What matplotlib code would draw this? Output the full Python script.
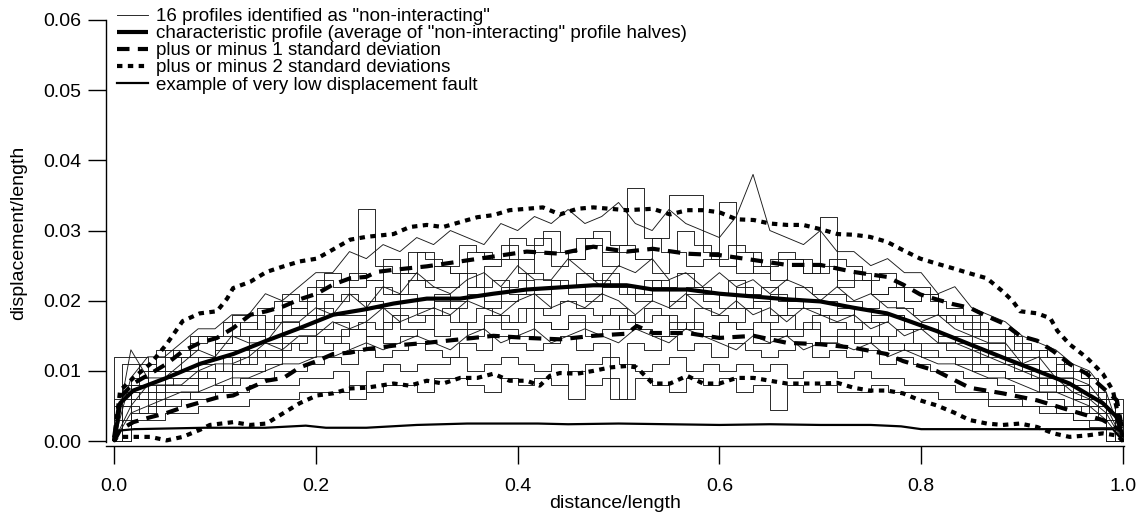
import matplotlib
matplotlib.use('Agg')
import matplotlib.pyplot as plt
import numpy as np

plt.rcParams['font.family'] = ['Liberation Sans', 'DejaVu Sans']

# 16 "non-interacting" profiles, sampled every 1/60 of length (units of 1e-3)
profile_x = np.linspace(0.0, 1.0, 61)
profiles = [
    [0, 9, 12, 12, 14, 16, 16, 18, 18, 21, 20, 22, 24, 24, 27, 26, 28, 27, 29, 28, 30, 29, 28, 31, 30, 32, 31, 33, 31, 32,
     34, 31, 30, 33, 31, 30, 29, 32, 38, 30, 29, 28, 30, 27, 27, 25, 26, 24, 24, 21, 22, 19, 18, 17, 15, 14, 13, 11, 10, 7, 0],
    [0, 11, 10, 13, 12, 15, 15, 17, 16, 19, 20, 19, 22, 24, 23, 33, 25, 24, 27, 26, 25, 28, 27, 26, 29, 28, 30, 27, 29, 30,
     28, 36, 29, 27, 30, 28, 26, 28, 27, 25, 27, 26, 24, 26, 25, 23, 24, 22, 22, 20, 19, 18, 16, 16, 14, 13, 12, 10, 9, 6, 0],
    [0, 12, 12, 10, 13, 13, 15, 14, 18, 18, 17, 21, 20, 23, 22, 24, 23, 26, 24, 27, 25, 24, 27, 26, 28, 26, 29, 27, 26, 29,
     27, 28, 26, 29, 35, 35, 27, 25, 27, 24, 26, 26, 24, 25, 23, 24, 21, 22, 20, 21, 18, 18, 15, 16, 13, 13, 10, 11, 8, 6, 0],
    [0, 7, 10, 10, 12, 12, 14, 15, 15, 17, 18, 18, 21, 20, 22, 23, 21, 24, 23, 25, 24, 22, 25, 26, 24, 27, 25, 26, 28, 25,
     27, 26, 24, 27, 25, 26, 34, 24, 25, 23, 26, 24, 32, 22, 23, 21, 22, 20, 21, 18, 17, 17, 14, 15, 12, 12, 10, 10, 7, 6, 0],
    [0, 13, 9, 9, 11, 13, 12, 15, 14, 14, 17, 17, 19, 18, 21, 19, 22, 21, 24, 22, 21, 23, 24, 22, 25, 23, 23, 26, 24, 22,
     25, 24, 26, 23, 24, 22, 24, 22, 23, 21, 23, 22, 20, 22, 20, 21, 19, 19, 17, 18, 16, 15, 14, 14, 11, 12, 9, 9, 8, 5, 0],
    [0, 8, 11, 12, 12, 14, 15, 15, 17, 16, 18, 19, 18, 20, 21, 20, 22, 21, 23, 22, 22, 24, 22, 23, 21, 24, 23, 22, 24, 23,
     22, 21, 23, 22, 24, 22, 21, 23, 21, 22, 20, 22, 21, 21, 20, 19, 20, 19, 18, 18, 17, 16, 15, 15, 13, 13, 12, 10, 9, 6, 0],
    [0, 6, 9, 8, 10, 10, 12, 13, 13, 15, 14, 17, 16, 19, 18, 18, 20, 19, 21, 19, 21, 20, 22, 20, 22, 23, 21, 23, 22, 21,
     24, 22, 21, 23, 20, 22, 21, 19, 22, 20, 21, 19, 20, 20, 18, 19, 17, 18, 16, 16, 14, 15, 12, 13, 11, 10, 9, 9, 6, 5, 0],
    [0, 8, 7, 9, 9, 11, 10, 12, 13, 12, 15, 15, 16, 17, 16, 19, 17, 19, 18, 20, 19, 21, 19, 20, 21, 19, 22, 21, 20, 22,
     21, 20, 22, 19, 21, 20, 21, 19, 20, 18, 20, 19, 18, 19, 17, 18, 18, 16, 17, 15, 14, 14, 12, 12, 11, 10, 8, 8, 6, 4, 0],
    [0, 5, 8, 8, 8, 10, 11, 11, 12, 14, 13, 15, 15, 17, 16, 17, 19, 17, 18, 19, 18, 20, 19, 18, 20, 21, 19, 20, 19, 21,
     20, 18, 20, 19, 21, 19, 18, 20, 18, 19, 17, 19, 18, 17, 18, 16, 17, 15, 16, 14, 14, 13, 12, 11, 10, 9, 9, 7, 6, 4, 0],
    [0, 7, 6, 8, 9, 9, 10, 12, 11, 13, 13, 14, 15, 14, 16, 17, 16, 18, 17, 18, 19, 17, 19, 18, 17, 19, 18, 20, 19, 18,
     19, 17, 19, 18, 16, 19, 18, 17, 19, 17, 18, 16, 18, 17, 16, 17, 15, 16, 14, 14, 13, 13, 11, 11, 10, 9, 8, 7, 6, 4, 0],
    [0, 5, 6, 7, 8, 8, 10, 10, 11, 12, 12, 14, 13, 15, 15, 16, 15, 17, 16, 16, 18, 17, 16, 18, 17, 19, 17, 16, 18, 17,
     18, 16, 17, 18, 16, 17, 15, 17, 16, 17, 15, 16, 17, 15, 16, 14, 15, 14, 13, 13, 12, 12, 10, 10, 9, 9, 7, 7, 5, 4, 0],
    [0, 6, 5, 7, 7, 9, 8, 10, 10, 11, 12, 12, 13, 14, 13, 15, 14, 15, 16, 15, 16, 15, 17, 16, 15, 17, 16, 17, 15, 16,
     18, 16, 15, 17, 16, 15, 17, 16, 14, 16, 15, 16, 14, 15, 15, 14, 13, 14, 12, 12, 11, 11, 10, 9, 9, 8, 7, 6, 5, 3, 0],
    [0, 4, 5, 6, 7, 7, 8, 9, 9, 10, 11, 11, 12, 12, 13, 14, 13, 14, 15, 14, 13, 15, 16, 14, 15, 16, 14, 15, 16, 15,
     14, 16, 15, 14, 16, 15, 14, 13, 15, 14, 15, 13, 14, 14, 13, 14, 12, 13, 12, 11, 11, 10, 9, 9, 8, 7, 7, 6, 5, 3, 0],
    [0, 5, 4, 6, 6, 7, 7, 8, 9, 9, 10, 10, 11, 12, 11, 13, 12, 13, 14, 13, 12, 14, 13, 15, 14, 13, 14, 15, 13, 14,
     6, 14, 13, 15, 13, 14, 12, 14, 13, 12, 13, 14, 12, 13, 12, 13, 11, 12, 11, 10, 10, 9, 9, 8, 7, 7, 6, 5, 4, 3, 0],
    [0, 3, 4, 5, 5, 6, 6, 7, 7, 8, 8, 8, 9, 9, 10, 6, 10, 11, 10, 11, 11, 12, 10, 11, 12, 11, 10, 11, 6, 11,
     12, 11, 10, 11, 12, 10, 11, 10, 11, 10, 11, 9, 10, 10, 9, 10, 9, 9, 8, 8, 8, 7, 7, 6, 6, 5, 5, 4, 3, 2, 0],
    [0, 3, 3, 4, 4, 5, 5, 5, 6, 6, 6, 7, 7, 7, 8, 7, 8, 8, 7, 9, 9, 8, 7, 9, 8, 9, 8, 10, 8, 9,
     6, 9, 8, 7, 9, 8, 9, 7, 8, 4.5, 8, 7, 8, 7, 7, 8, 7, 7, 7, 6, 6, 6, 5, 5, 5, 4, 4, 3, 3, 2, 0],
]
profile_styles = ['default', 'steps-mid', 'steps-pre', 'steps-post']

# characteristic profile
char_x = [0.0, 0.001, 0.006, 0.019, 0.052, 0.085, 0.118, 0.151, 0.184, 0.217, 0.25, 0.277,
          0.31, 0.343, 0.376, 0.409, 0.442, 0.475, 0.508, 0.534, 0.568, 0.60, 0.634, 0.667,
          0.70, 0.733, 0.766, 0.782, 0.815, 0.848, 0.881, 0.915, 0.947, 0.98, 0.994, 1.0]
char_y = [0.0, 0.0006, 0.0054, 0.0072, 0.009, 0.011, 0.0124, 0.0143, 0.0161, 0.018, 0.0188, 0.0196,
          0.0203, 0.0203, 0.021, 0.0216, 0.0219, 0.0222, 0.0222, 0.0216, 0.0216, 0.021, 0.0206, 0.0202,
          0.0199, 0.019, 0.0182, 0.0174, 0.0157, 0.0138, 0.0119, 0.010, 0.0082, 0.0054, 0.0034, 0.0005]

# plus 1 standard deviation
plus1_x = [0.0, 0.006, 0.019, 0.036, 0.052, 0.068, 0.085, 0.102, 0.118, 0.135, 0.151, 0.168,
           0.184, 0.201, 0.217, 0.234, 0.25, 0.26, 0.277, 0.31, 0.343, 0.376, 0.409, 0.442,
           0.475, 0.508, 0.534, 0.568, 0.60, 0.634, 0.667, 0.70, 0.733, 0.766, 0.782, 0.799,
           0.815, 0.832, 0.848, 0.865, 0.881, 0.898, 0.915, 0.931, 0.947, 0.964, 0.98, 0.994, 1.0]
plus1_y = [0.0005, 0.0062, 0.0082, 0.0096, 0.011, 0.0128, 0.014, 0.0147, 0.0161, 0.018, 0.0185, 0.0192,
           0.0202, 0.021, 0.0223, 0.0232, 0.0234, 0.0241, 0.0244, 0.0249, 0.0256, 0.0263, 0.027, 0.0267,
           0.0277, 0.027, 0.0274, 0.0267, 0.0265, 0.0258, 0.0251, 0.0251, 0.0241, 0.0234, 0.0223, 0.0209,
           0.0202, 0.0195, 0.019, 0.0178, 0.0168, 0.015, 0.0143, 0.0128, 0.011, 0.0096, 0.0076, 0.0058, 0.001]

# minus 1 standard deviation
minus1_x = [0.0, 0.006, 0.019, 0.036, 0.052, 0.068, 0.085, 0.102, 0.118, 0.135, 0.151, 0.168,
            0.184, 0.201, 0.217, 0.234, 0.25, 0.277, 0.31, 0.343, 0.376, 0.409, 0.442, 0.475,
            0.508, 0.518, 0.534, 0.568, 0.60, 0.634, 0.667, 0.70, 0.733, 0.766, 0.782, 0.815,
            0.848, 0.881, 0.915, 0.947, 0.98, 0.997]
minus1_y = [0.0, 0.0016, 0.0027, 0.0034, 0.004, 0.0048, 0.0055, 0.0062, 0.0065, 0.0076, 0.0086, 0.009,
            0.0105, 0.0114, 0.0124, 0.0126, 0.0131, 0.0136, 0.014, 0.0145, 0.015, 0.0147, 0.0145, 0.015,
            0.0153, 0.0164, 0.0154, 0.0154, 0.0147, 0.015, 0.014, 0.0138, 0.0133, 0.0124, 0.0114, 0.010,
            0.0076, 0.0068, 0.0058, 0.0044, 0.003, 0.0016]

# plus 2 standard deviations
plus2_x = [0.0, 0.006, 0.019, 0.036, 0.052, 0.068, 0.085, 0.102, 0.112, 0.118, 0.135, 0.151,
           0.168, 0.184, 0.201, 0.217, 0.234, 0.25, 0.277, 0.293, 0.31, 0.326, 0.343, 0.36,
           0.376, 0.392, 0.409, 0.425, 0.442, 0.459, 0.475, 0.508, 0.534, 0.551, 0.568, 0.584,
           0.60, 0.617, 0.634, 0.65, 0.667, 0.683, 0.70, 0.717, 0.733, 0.749, 0.766, 0.782,
           0.799, 0.815, 0.832, 0.848, 0.865, 0.881, 0.891, 0.898, 0.915, 0.928, 0.935, 0.947,
           0.964, 0.98, 0.99, 0.997]
plus2_y = [0.0, 0.0072, 0.009, 0.011, 0.0138, 0.0171, 0.0182, 0.0185, 0.0203, 0.0218, 0.0227, 0.0241,
           0.0249, 0.0256, 0.026, 0.0273, 0.0287, 0.0291, 0.0295, 0.0305, 0.0308, 0.0305, 0.0312, 0.0319,
           0.0322, 0.0329, 0.0331, 0.0333, 0.0323, 0.0331, 0.0333, 0.0329, 0.0331, 0.0323, 0.0329, 0.0329,
           0.0326, 0.0316, 0.0315, 0.031, 0.0308, 0.0308, 0.0302, 0.0295, 0.0294, 0.0291, 0.0284, 0.0272,
           0.026, 0.0253, 0.0246, 0.0239, 0.0232, 0.0213, 0.0199, 0.0185, 0.0182, 0.0175, 0.0157, 0.0138,
           0.0119, 0.0096, 0.0072, 0.0025]

# minus 2 standard deviations
minus2_x = [0.0, 0.003, 0.019, 0.036, 0.052, 0.068, 0.085, 0.095, 0.118, 0.135, 0.151, 0.168,
            0.184, 0.201, 0.217, 0.234, 0.25, 0.277, 0.293, 0.31, 0.326, 0.343, 0.36, 0.376,
            0.392, 0.409, 0.422, 0.432, 0.442, 0.459, 0.475, 0.492, 0.508, 0.518, 0.534, 0.551,
            0.568, 0.584, 0.60, 0.617, 0.634, 0.65, 0.667, 0.683, 0.70, 0.717, 0.733, 0.749,
            0.766, 0.782, 0.799, 0.815, 0.832, 0.848, 0.865, 0.881, 0.898, 0.915, 0.931, 0.947,
            0.964, 0.98, 0.994, 1.0]
minus2_y = [0.0, 0.0006, 0.0006, 0.0006, 0.0001, 0.0006, 0.0016, 0.0023, 0.0027, 0.0023, 0.0025, 0.004,
            0.0054, 0.0065, 0.0068, 0.0075, 0.0076, 0.0082, 0.0079, 0.0086, 0.0082, 0.009, 0.009, 0.0096,
            0.0086, 0.0086, 0.0079, 0.0093, 0.0097, 0.0096, 0.010, 0.0105, 0.0107, 0.0105, 0.0082, 0.0082,
            0.0093, 0.0082, 0.0082, 0.009, 0.009, 0.0086, 0.0082, 0.0082, 0.0082, 0.0083, 0.0076, 0.0072,
            0.0072, 0.0068, 0.0058, 0.0051, 0.0041, 0.003, 0.0025, 0.0023, 0.0025, 0.002, 0.0011, 0.0006,
            0.0008, 0.0011, 0.0008, 0.0]

# example of very low displacement fault
low_x = [0.0, 0.005, 0.02, 0.09, 0.15, 0.19, 0.21, 0.25, 0.3, 0.35, 0.42, 0.45,
         0.5, 0.55, 0.6, 0.65, 0.7, 0.75, 0.78, 0.8, 0.9, 0.99, 1.0]
low_y = [0.0, 0.0015, 0.0017, 0.0019, 0.0019, 0.0022, 0.0019, 0.0019, 0.0023, 0.0025, 0.0025, 0.0024,
         0.0025, 0.0024, 0.0023, 0.0024, 0.0023, 0.0023, 0.0021, 0.0017, 0.0017, 0.0017, 0.0]

x_ticks = [0.0, 0.2, 0.4, 0.6, 0.8, 1.0]
y_ticks = [0.00, 0.01, 0.02, 0.03, 0.04, 0.05, 0.06]


def main():
    W, H = 1141, 514
    fig = plt.figure(figsize=(W / 100, H / 100), dpi=100)
    ax = fig.add_axes([106 / W, (H - 446) / H, (1124 - 106) / W, (446 - 20) / H])

    for k, p in enumerate(profiles):
        ax.plot(profile_x, np.array(p) * 1e-3, color='0.1', lw=0.65,
                drawstyle=profile_styles[k % len(profile_styles)],
                label='16 profiles identified as "non-interacting"' if k == 0 else None, zorder=1)

    ax.plot(char_x, char_y, color='black', lw=3.0, solid_capstyle='butt', zorder=3,
            label='characteristic profile (average of "non-interacting" profile halves)')
    ax.plot(plus1_x, plus1_y, color='black', lw=3.0, dashes=(3, 2), zorder=3,
            label='plus or minus 1 standard deviation')
    ax.plot(minus1_x, minus1_y, color='black', lw=3.0, dashes=(3, 2), zorder=3)
    ax.plot(plus2_x, plus2_y, color='black', lw=3.0, dashes=(1.3, 1.3), zorder=3,
            label='plus or minus 2 standard deviations')
    ax.plot(minus2_x, minus2_y, color='black', lw=3.0, dashes=(1.3, 1.3), zorder=3)
    ax.plot(low_x, low_y, color='black', lw=1.6, zorder=3,
            label='example of very low displacement fault')

    ax.set_xlim(-0.008, 1.001)
    ax.set_ylim(-0.0007, 0.06)
    ax.set_xticks(x_ticks)
    ax.set_xticklabels(['%.1f' % v for v in x_ticks])
    ax.set_yticks(y_ticks)
    ax.set_yticklabels(['%.2f' % v for v in y_ticks])

    for s in ['top', 'right']:
        ax.spines[s].set_visible(False)
    ax.spines['left'].set_bounds(-0.0001, 0.06)
    ax.spines['left'].set_linewidth(1.0)
    ax.spines['bottom'].set_linewidth(1.0)

    ax.tick_params(axis='both', direction='out', length=13, width=1.0, labelsize=14)
    ax.tick_params(axis='y', pad=5)
    ax.tick_params(axis='x', pad=10)

    ax.set_xlabel('distance/length', fontsize=14, labelpad=0)
    ax.set_ylabel('displacement/length', fontsize=14, labelpad=11)

    ax.legend(loc='upper left', bbox_to_anchor=(117 / W, 1 - 8 / H), bbox_transform=fig.transFigure,
              frameon=False, fontsize=13.5, handlelength=1.65, handletextpad=0.45,
              labelspacing=0.0, borderpad=0, borderaxespad=0)

    fig.savefig('out.png', dpi=100)


if __name__ == '__main__':
    main()
